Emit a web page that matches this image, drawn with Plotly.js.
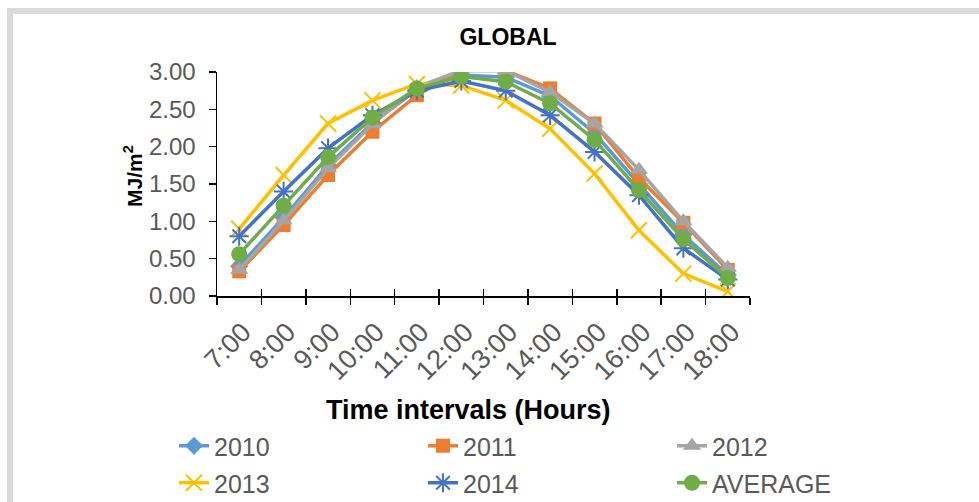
<!DOCTYPE html>
<html>
<head>
<meta charset="utf-8">
<script src="https://cdn.plot.ly/plotly-3.0.1.min.js"></script>
<style>
  html, body { margin: 0; padding: 0; background: #fff; overflow: hidden; width: 979px; height: 502px; }
  #frame {
    position: absolute; left: 7px; top: 8px; width: 966px; height: 494px;
    border-left: 6px solid #d9d9d9; border-top: 6px solid #d9d9d9;
  }
  #chart { position: absolute; left: 0; top: 0; width: 979px; height: 540px; }
</style>
</head>
<body>
<div id="frame"></div>
<div id="chart"></div>
<script>
// Hourly global radiation (MJ/m²) per year and the five-year average
const hours = ["7:00", "8:00", "9:00", "10:00", "11:00", "12:00",
               "13:00", "14:00", "15:00", "16:00", "17:00", "18:00"];
const y2010 = [0.40, 1.05, 1.75, 2.32, 2.76, 2.96, 2.93, 2.68, 2.18, 1.50, 0.82, 0.28];
const y2011 = [0.33, 0.95, 1.62, 2.20, 2.69, 3.02, 3.02, 2.78, 2.31, 1.58, 0.98, 0.35];
const y2012 = [0.35, 1.01, 1.71, 2.30, 2.80, 3.02, 3.02, 2.73, 2.31, 1.69, 1.00, 0.38];
const y2013 = [0.90, 1.62, 2.31, 2.62, 2.84, 2.82, 2.62, 2.24, 1.64, 0.88, 0.30, 0.06];
const y2014 = [0.80, 1.40, 1.98, 2.42, 2.75, 2.88, 2.75, 2.42, 1.93, 1.35, 0.64, 0.22];
const yAvg  = [0.56, 1.21, 1.86, 2.39, 2.78, 2.94, 2.87, 2.58, 2.09, 1.42, 0.76, 0.24];
const seriesNames = ["2010", "2011", "2012", "2013", "2014", "AVERAGE"];

const FONT = "Liberation Sans, Arial, sans-serif";
const GREY_TXT = "#595959";

// plot area in pixels: x 217..750, y 72..296
const PL = 217, PW = 533, PB = 296, PH = 224;
const px = v => (v - PL) / PW;
const py = v => (PB - v) / PH;

function series(name, ys, color, symbol, size, legendId, openSymbol) {
  return {
    type: "scatter", mode: "lines+markers", name: name,
    x: hours, y: ys, legend: legendId,
    line: { color: color, width: 3.5 },
    marker: { symbol: symbol, size: size, color: color,
              line: { color: color, width: openSymbol ? 2 : 0 } }
  };
}

const traces = [
  series(seriesNames[0], y2010, "#5B9BD5", "diamond", 14, "legend"),
  series(seriesNames[1], y2011, "#ED7D31", "square", 14, "legend2"),
  series(seriesNames[2], y2012, "#A5A5A5", "triangle-up", 16, "legend3"),
  series(seriesNames[3], y2013, "#FFC000", "x-thin-open", 16, "legend4", true),
  series(seriesNames[4], y2014, "#4472C4", "asterisk-open", 16, "legend5", true),
  series(seriesNames[5], yAvg, "#70AD47", "circle", 16, "legend6"),
  // second category axis only carries the inner half of the crossing tick marks
  { type: "scatter", x: hours, y: yAvg, xaxis: "x2", mode: "none",
    showlegend: false, hoverinfo: "skip" }
];

// one legend box per entry, laid out as a 3 x 2 grid under the axis title
const colX = [174, 423, 672];
const rowTop = [423, 460];
function legendAt(col, row) {
  return {
    orientation: "h", xanchor: "left", yanchor: "top",
    x: px(colX[col]), y: py(rowTop[row]),
    font: { family: FONT, size: 25, color: GREY_TXT },
    bgcolor: "rgba(0,0,0,0)", itemwidth: 30
  };
}

const layout = {
  width: 979, height: 540,
  paper_bgcolor: "rgba(0,0,0,0)", plot_bgcolor: "#fff",
  margin: { l: PL, r: 979 - PL - PW, t: 72, b: 540 - PB },
  font: { family: FONT, color: GREY_TXT },
  title: { text: "<b>GLOBAL</b>", font: { family: FONT, size: 23, color: "#000" },
           x: 508 / 979, xanchor: "center", xref: "container",
           y: 1 - 37 / 540, yanchor: "middle", yref: "container" },
  xaxis: {
    type: "category", range: [-0.5, 11.5], automargin: false,
    tickson: "boundaries", ticks: "outside", ticklen: 7, tickwidth: 1.5, tickcolor: "#000",
    showline: true, linecolor: "#000", linewidth: 1.5,
    showgrid: false, zeroline: false, ticklabelstandoff: 8, ticklabelshift: 4,
    tickangle: -45, tickfont: { family: FONT, size: 27, color: GREY_TXT }
  },
  xaxis2: {
    type: "category", overlaying: "x", anchor: "y", range: [-0.5, 11.5],
    tickson: "boundaries", ticks: "inside", ticklen: 7, tickwidth: 1.5, tickcolor: "#000",
    showticklabels: false, showgrid: false, zeroline: false, showline: false
  },
  yaxis: {
    range: [0, 3], dtick: 0.5, tickformat: ".2f", automargin: false,
    ticks: "outside", ticklen: 7, tickwidth: 1.5, tickcolor: "#000",
    showline: true, linecolor: "#000", linewidth: 1.5,
    showgrid: false, zeroline: false, ticklabelstandoff: 8,
    tickfont: { family: FONT, size: 24, color: GREY_TXT }
  },
  annotations: [
    { text: "<b>Time intervals (Hours)</b>", xref: "paper", yref: "paper",
      x: px(468), y: py(410), xanchor: "center", yanchor: "middle",
      showarrow: false, font: { family: FONT, size: 27, color: "#000" } },
    { text: "<b>MJ/m<sup>2</sup></b>", xref: "paper", yref: "paper",
      x: px(133), y: py(176), xanchor: "center", yanchor: "middle",
      textangle: -90, showarrow: false, font: { family: FONT, size: 21, color: "#000" } }
  ],
  showlegend: true,
  legend: legendAt(0, 0), legend2: legendAt(1, 0), legend3: legendAt(2, 0),
  legend4: legendAt(0, 1), legend5: legendAt(1, 1), legend6: legendAt(2, 1)
};

Plotly.newPlot("chart", traces, layout, { displayModeBar: false, staticPlot: true });
</script>
</body>
</html>
